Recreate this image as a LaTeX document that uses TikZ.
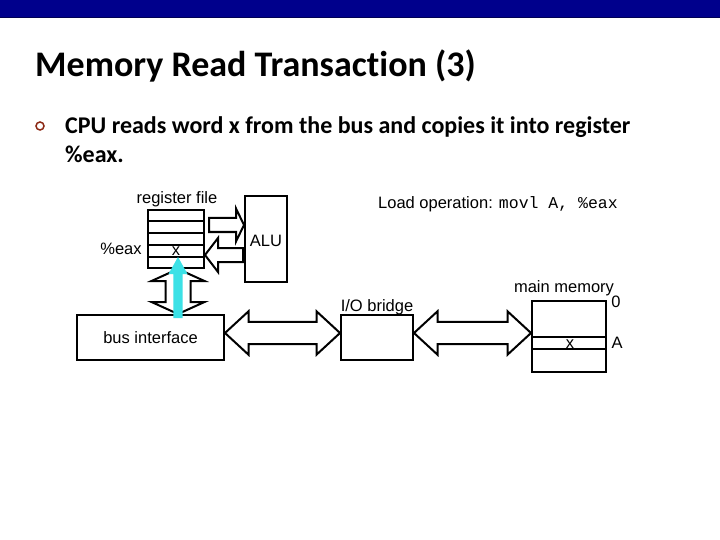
\documentclass[tikz,border=0pt]{standalone}
\usepackage{fontspec}
\setmainfont[Ligatures=NoCommon]{Carlito}
\newfontfamily\arialf{Liberation Sans}
\setmonofont{Liberation Mono}
\usetikzlibrary{calc}
\definecolor{barblue}{RGB}{0,0,140}
\definecolor{bulletred}{RGB}{140,40,20}
\definecolor{cyanarrow}{RGB}{60,225,230}
\tikzset{
  box/.style={draw, line width=2pt, inner sep=0pt, fill=white},
  lbl/.style={font=\arialf\fontsize{16.5}{18}\selectfont, inner sep=0pt},
  hollow/.style={draw, line width=2pt, fill=white, line join=miter},
  dblarrow/.style n args={3}{to path={
    let \p1=(\tikztostart), \p2=(\tikztotarget),
        \p3=($(\p2)!#1!(\p1)$), \p4=($(\p1)!#1!(\p2)$) in
    (\p1) -- ($(\p4)!#2!90:(\p2)$) -- ($(\p4)!#3!90:(\p2)$)
    -- ($(\p3)!#3!90:(\p2)$) -- ($(\p3)!#2!90:(\p2)$) -- (\p2)
    -- ($(\p3)!#2!-90:(\p2)$) -- ($(\p3)!#3!-90:(\p2)$)
    -- ($(\p4)!#3!-90:(\p2)$) -- ($(\p4)!#2!-90:(\p2)$) -- cycle}},
  sglarrow/.style n args={3}{to path={
    let \p1=(\tikztostart), \p2=(\tikztotarget),
        \p3=($(\p2)!#1!(\p1)$) in
    ($(\p1)!#3!90:(\p2)$) -- ($(\p3)!#3!90:(\p2)$) -- ($(\p3)!#2!90:(\p2)$)
    -- (\p2) -- ($(\p3)!#2!-90:(\p2)$) -- ($(\p3)!#3!-90:(\p2)$)
    -- ($(\p1)!#3!-90:(\p2)$) -- cycle}}
}
\begin{document}
\begin{tikzpicture}[x=1pt,y=-1pt]
\useasboundingbox (0,0) rectangle (720,540);
\fill[white] (0,0) rectangle (720,540);
% top bar
\fill[barblue] (0,0) rectangle (720,17.5);
\fill[barblue!60!black] (0,17) rectangle (720,18.5);
% title and bullet
\node[anchor=base west, inner sep=0pt, font=\bfseries\fontsize{36}{42}\selectfont] (title) at (35,77) {Memory Read Transaction (3)};
\node[draw=bulletred, line width=1.5pt, circle, minimum size=8pt, inner sep=0pt] (bul) at (40,126) {};
\node[anchor=base west, inner sep=0pt, font=\bfseries\fontsize{24}{28}\selectfont] (t1) at (65,134) {CPU reads word x from the bus and copies it into register};
\node[anchor=base west, inner sep=0pt, font=\bfseries\fontsize{24}{28}\selectfont] (t2) at (65,163) {\%eax.};
% register file
\node[box, minimum width=56pt, minimum height=58pt] (regfile) at (176,239) {};
\foreach \k in {1,2,3,4}
  \draw[line width=2pt] ($(regfile.north west)!\k/5!(regfile.south west)$) -- ($(regfile.north east)!\k/5!(regfile.south east)$);
\node[lbl, anchor=base] (rflabel) at (177,204) {register file};
\node[lbl, anchor=base] (eaxlabel) at (121,254.5) {\%eax};
\node[lbl, anchor=base] (regx) at (176,255.5) {x};
% ALU
\node[box, minimum width=42pt, minimum height=86pt] (alu) at (266,239) {};
\node[lbl] (alulabel) at (266,240.5) {ALU};
% regfile <-> ALU arrows
\coordinate (rtail) at (209,225);
\coordinate (ltail) at (243,255);
\draw[hollow] (rtail) to[sglarrow={8pt}{16.5pt}{7pt}] (alu.west |- rtail);
\draw[hollow] (ltail) to[sglarrow={13pt}{17pt}{7pt}] (regfile.east |- ltail);
% load operation
\node[anchor=base west, inner sep=0pt] (loadop) at (378,208.5) {\arialf\fontsize{16.5}{18}\selectfont Load operation: \ttfamily\fontsize{16.5}{18}\selectfont movl A, \%eax};
% bus interface
\node[box, minimum width=147pt, minimum height=45pt] (bus) at (150.5,337.5) {};
\node[lbl] (buslabel) at (150.5,337.5) {bus interface};
% vertical double arrow regfile <-> bus
\coordinate (vx) at (178,0);
\draw[hollow] (vx |- regfile.south) to[dblarrow={12pt}{26.5pt}{12.5pt}] (vx |- bus.north);
% cyan arrow
\coordinate (ctail) at (178,318);
\coordinate (ctip) at (178,257);
\fill[cyanarrow] (ctail) to[sglarrow={17pt}{9.5pt}{4.7pt}] (ctip);
% I/O bridge
\node[box, minimum width=72pt, minimum height=45pt] (bridge) at (377,337.5) {};
\node[lbl, anchor=base] (brlabel) at (377,311) {I/O bridge};
% main memory
\node[box, minimum width=74pt, minimum height=71pt] (mem) at (569,336.2) {};
\draw[line width=2pt] ($(mem.north west)!0.507!(mem.south west)$) -- ($(mem.north east)!0.507!(mem.south east)$);
\draw[line width=2pt] ($(mem.north west)!0.68!(mem.south west)$) -- ($(mem.north east)!0.68!(mem.south east)$);
\node[lbl, anchor=base] (memlabel) at (564,292.5) {main memory};
\node[lbl] (zero) at (616,302) {0};
\node[lbl] (aaddr) at (617,343) {A};
\node[lbl, anchor=base] (memx) at (570,348) {x};
% bus arrows
\coordinate (by) at (0,333);
\draw[hollow] (bus.east |- by) to[dblarrow={23.5pt}{21.7pt}{11.2pt}] (bridge.west |- by);
\draw[hollow] (bridge.east |- by) to[dblarrow={23.5pt}{21.7pt}{11.2pt}] (mem.west |- by);
\end{tikzpicture}
\end{document}
